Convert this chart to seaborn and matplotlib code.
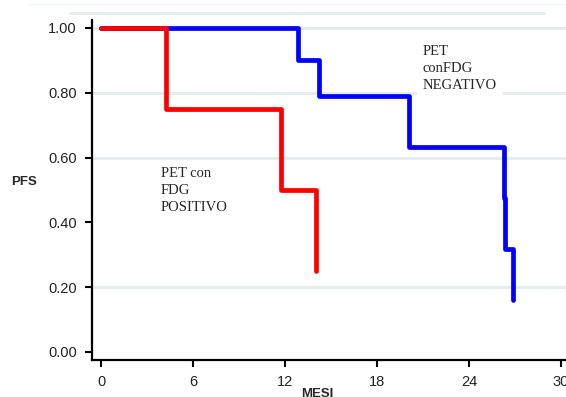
import numpy as np
import seaborn as sns
import matplotlib.pyplot as plt
from matplotlib.lines import Line2D

# curve PET positivo / negativo
pos_mesi = [0.0, 4.24, 11.74, 14.0]
pos_pfs = [1.00, 0.75, 0.50, 0.25]
neg_mesi = [0.0, 12.85, 14.2, 20.1, 26.3, 26.38, 26.85]
neg_pfs = [1.00, 0.90, 0.79, 0.633, 0.475, 0.318, 0.16]

y_ticks = [0.0, 0.2, 0.4, 0.6, 0.8, 1.0]
y_labels = ["0.00", "0.20", "0.40", "0.60", "0.80", "1.00"]
x_ticks = [0, 6, 12, 18, 24, 30]
grid_vals = [0.2, 0.6, 0.8, 1.0]

sns.set_style("white")
plt.rcParams['font.family'] = ['Liberation Sans', 'DejaVu Sans']

fig = plt.figure(figsize=(5.66, 3.97), dpi=100)
ax = fig.add_axes([0.1625, 0.093, 0.8375, 0.857])

grid_col = "#e6eded"
for g in grid_vals:
    ax.axhline(g, color=grid_col, lw=2.2, zorder=0)

# righe chiare in alto (residui dell'immagine originale)
fig.add_artist(Line2D([70 / 566, 544 / 566], [1 - 13 / 397] * 2, color=grid_col, lw=2.2))
fig.add_artist(Line2D([0.05, 1.0], [1 - 4 / 397] * 2, color="#f4f6f6", lw=1.0))

sns.lineplot(x=neg_mesi, y=neg_pfs, ax=ax, color="#0000ff", lw=3.4,
             drawstyle="steps-post", estimator=None, sort=False, zorder=3)
sns.lineplot(x=pos_mesi, y=pos_pfs, ax=ax, color="#ff0000", lw=3.4,
             drawstyle="steps-post", estimator=None, sort=False, zorder=4)

ax.set_xlim(-0.59, 30.33)
ax.set_ylim(-0.025, 1.025)
ax.set_xticks(x_ticks)
ax.set_yticks(y_ticks)
ax.set_yticklabels(y_labels)
ax.tick_params(axis="both", direction="out", length=5, width=1.5, labelsize=10.5,
               color="black", labelcolor="#222222", bottom=True, left=True)
ax.tick_params(axis="y", pad=6)
ax.tick_params(axis="x", pad=6)

for s in ["top", "right"]:
    ax.spines[s].set_visible(False)
for s in ["left", "bottom"]:
    ax.spines[s].set_color("black")
    ax.spines[s].set_linewidth(1.6)

ax.set_xlabel("MESI", fontsize=9.5, fontweight="bold")
ax.xaxis.set_label_coords(0.475, -0.082)
ax.set_ylabel("PFS", fontsize=9.5, fontweight="bold", rotation=0, ha="center", va="center")
ax.yaxis.set_label_coords(-0.143, 0.524)

ax.text(3.9, 0.57, "PET con\nFDG\nPOSITIVO", family=["Liberation Serif"], fontsize=10.5,
        va="top", ha="left", linespacing=1.4, zorder=5)
ax.text(21.0, 0.948, "PET\nconFDG\nNEGATIVO", family=["Liberation Serif"], fontsize=10.5,
        va="top", ha="left", linespacing=1.4, zorder=5,
        bbox=dict(facecolor="white", edgecolor="none", pad=4))

fig.savefig("out.png", dpi=100)
